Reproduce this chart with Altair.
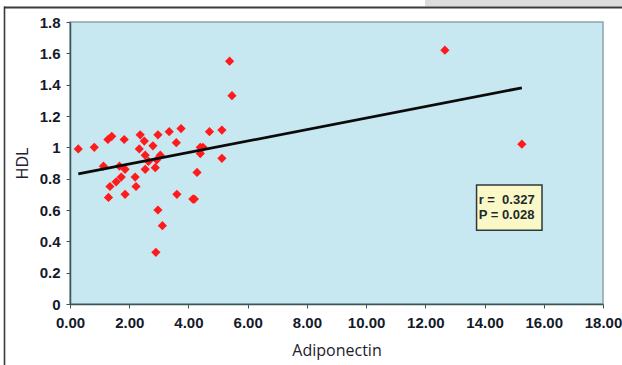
import altair as alt
import pandas as pd

# Adiponectin vs HDL measurements
adiponectin = [0.28, 0.82, 1.13, 1.28, 1.41, 1.83, 2.37, 2.51, 2.34, 2.80,
               2.97, 3.35, 3.75, 3.59, 4.71, 5.13, 4.49, 4.40, 5.13, 4.29,
               2.54, 2.65, 3.05, 2.93, 1.67, 1.86, 2.54, 2.88, 1.73, 1.56,
               2.20, 1.35, 2.23, 1.30, 1.86, 3.61, 4.15, 2.97, 3.12, 2.90,
               5.39, 5.47, 12.66, 15.26, 4.40, 4.20]
hdl = [0.99, 1.00, 0.88, 1.05, 1.07, 1.05, 1.08, 1.04, 0.99, 1.01,
       1.08, 1.10, 1.12, 1.03, 1.10, 1.11, 1.00, 0.96, 0.93, 0.84,
       0.95, 0.91, 0.95, 0.92, 0.88, 0.86, 0.86, 0.87, 0.81, 0.78,
       0.81, 0.75, 0.75, 0.68, 0.70, 0.70, 0.67, 0.60, 0.50, 0.33,
       1.55, 1.33, 1.62, 1.02, 1.00, 0.67]

# Linear trend line end points
trend_x = [0.28, 15.26]
trend_y = [0.83, 1.38]

# Statistics box
stat_lines = ["r =\u00a0\u00a00.327", "P = 0.028"]
box_x = [13.73, 15.94]
box_y = [0.76, 0.47]

x_ticks = [0, 2, 4, 6, 8, 10, 12, 14, 16, 18]
y_ticks = [0, 0.2, 0.4, 0.6, 0.8, 1.0, 1.2, 1.4, 1.6, 1.8]

pts = pd.DataFrame({"Adiponectin": adiponectin, "HDL": hdl})
trend = pd.DataFrame({"Adiponectin": trend_x, "HDL": trend_y})
box = pd.DataFrame({"x": [box_x[0]], "x2": [box_x[1]], "y": [box_y[0]], "y2": [box_y[1]]})
txt = pd.DataFrame({"x": [box_x[0] + 0.07] * 2, "y": [0.665, 0.565], "t": stat_lines})
edges = pd.DataFrame({"edge": ["top", "left"]})

W, H = 533, 282
PL, PT = 70, 22

xs = alt.Scale(domain=[0, 18], nice=False, zero=False)
ys = alt.Scale(domain=[0, 1.8], nice=False)

axis_common = dict(
    domainColor="#3b5656", domainWidth=1.5, tickColor="#3b5656", tickSize=4,
    labelFont="Liberation Sans", labelFontWeight="bold", labelFontSize=15,
    labelColor="#141a2a", titleFont="Open Sans", titleFontSize=16,
    titleFontWeight="normal", titleColor="#22212c", grid=False,
    labelOverlap=False, labelFlush=False,
)
x_axis = alt.Axis(title="Adiponectin", values=x_ticks, format=".2f",
                  labelPadding=7, titlePadding=12, **axis_common)
y_axis = alt.Axis(title="HDL", values=y_ticks, format="~g",
                  labelPadding=6, titlePadding=9, **axis_common)


def xq(field):
    return alt.X(field, type="quantitative", scale=xs, axis=x_axis, title="Adiponectin")


def yq(field):
    return alt.Y(field, type="quantitative", scale=ys, axis=y_axis, title="HDL")


points = alt.Chart(pts).mark_point(
    shape="diamond", filled=True, size=85, color="#ff1b1b", opacity=1
).encode(x=xq("Adiponectin"), y=yq("HDL"))

line = alt.Chart(trend).mark_line(color="#0a0a0a", strokeWidth=2.8).encode(
    x=xq("Adiponectin"), y=yq("HDL"))

rect = alt.Chart(box).mark_rect(fill="#fbf8c8", stroke="#2e3a3a", strokeWidth=1.5).encode(
    x=xq("x"), x2=alt.X2("x2", title="Adiponectin"),
    y=yq("y"), y2=alt.Y2("y2", title="HDL"))

labels = alt.Chart(txt).mark_text(
    align="left", baseline="middle", font="Liberation Sans", fontSize=13,
    fontWeight="bold", color="#1d2a2a"
).encode(x=xq("x"), y=yq("y"), text="t:N")

# Page frame around the figure: a grey strip above a dark top edge, and a dark left edge
shade = alt.Chart(edges).transform_filter("datum.edge == 'top'").mark_rect(
    color="#dcdcdc").encode(
    x=alt.value(425 - PL), x2=alt.value(622 - PL), y=alt.value(0 - PT), y2=alt.value(6.5 - PT))
frame_top = alt.Chart(edges).transform_filter("datum.edge == 'top'").mark_rect(
    color="#3a3a3a").encode(
    x=alt.value(4 - PL), x2=alt.value(622 - PL), y=alt.value(6.5 - PT), y2=alt.value(8.5 - PT))
frame_left = alt.Chart(edges).transform_filter("datum.edge == 'left'").mark_rect(
    color="#3a3a3a").encode(
    x=alt.value(3.7 - PL), x2=alt.value(5.3 - PL), y=alt.value(6.5 - PT), y2=alt.value(365 - PT))

chart = alt.layer(points, line, rect, labels, shade, frame_top, frame_left).properties(
    width=W, height=H,
    padding={"left": PL, "top": PT, "right": 622 - PL - W, "bottom": 365 - PT - H},
    autosize=alt.AutoSizeParams(type="none"),
    background="white",
).configure_view(fill="#c7e7f1", stroke="#8aa6ab", strokeWidth=1.5)

chart.save("out.html", embed_options={"renderer": "svg", "actions": False})
